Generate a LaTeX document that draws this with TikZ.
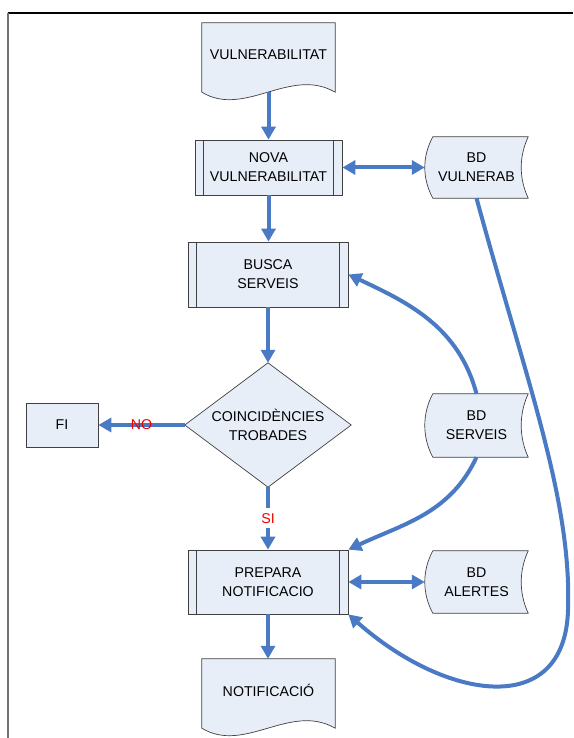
\documentclass[tikz,border=0pt]{standalone}
\usepackage{fontspec}
\setmainfont{Liberation Sans}
\usetikzlibrary{arrows.meta,calc,backgrounds}
\definecolor{boxfill}{RGB}{232,238,248}
\definecolor{boxline}{RGB}{64,64,64}
\definecolor{arrowblue}{RGB}{74,122,196}
\definecolor{labelred}{RGB}{240,0,0}
\tikzset{
  every node/.style={font=\fontsize{14.2}{19}\selectfont, text=black},
  shapeonly/.style={draw=none, rectangle, inner sep=0pt, align=center},
  procbox/.style={shapeonly, draw=boxline, fill=boxfill, line width=0.7pt},
  outline/.style={draw=boxline, fill=boxfill, line width=0.7pt},
  tipA/.tip={Triangle[length=13pt,width=14pt]},
  flow/.style={draw=arrowblue, line width=4pt, -tipA},
  biflow/.style={draw=arrowblue, line width=4pt, tipA-tipA},
  lbl/.style={text=labelred, inner sep=1pt},
}
\newcommand{\procinner}[1]{%
  \draw[boxline, line width=0.7pt] ([xshift=9pt]#1.north west) -- ([xshift=9pt]#1.south west);
  \draw[boxline, line width=0.7pt] ([xshift=-9pt]#1.north east) -- ([xshift=-9pt]#1.south east);}
\newcommand{\docoutline}[1]{%
  \path[outline] (#1.north west) -- (#1.north east) -- (#1.south east)
    .. controls ($(#1.south east)+(-45,26)$) and ($(#1.south west)+(43,-26)$) .. (#1.south west) -- cycle;}
\newcommand{\storeoutline}[1]{%
  \path[outline] ($(#1.north west)+(8,0)$) -- (#1.north east)
    .. controls ($(#1.north east)+(-9.3,-20)$) and ($(#1.south east)+(-9.3,20)$) .. (#1.south east)
    -- ($(#1.south west)+(8,0)$)
    .. controls ($(#1.south west)+(-2.7,20)$) and ($(#1.north west)+(-2.7,-20)$) .. ($(#1.north west)+(8,0)$) -- cycle;}
\begin{document}
\begin{tikzpicture}[x=1pt,y=1pt]
\useasboundingbox (0,0) rectangle (573,738);
% frame
\draw[black, line width=1.2pt] (8,725) -- (573,725);
\draw[black!55, line width=2pt] (8,725) -- (8,0);

% nodes
\node[shapeonly, minimum width=133pt, minimum height=69pt] (vul) at (268.5,680.5) {\raisebox{5.5pt}{VULNERABILITAT}};
\node[procbox, minimum width=147pt, minimum height=55pt] (nova) at (268.5,570.5) {NOVA\\VULNERABILITAT};
\node[shapeonly, minimum width=103pt, minimum height=61pt] (bdv) at (476.5,570.5) {BD\\VULNERAB};
\node[procbox, minimum width=160pt, minimum height=65pt] (busca) at (268,463.5) {BUSCA\\SERVEIS};
\node[shapeonly, minimum width=166pt, minimum height=124pt] (dia) at (268,313) {COINCIDÈNCIES\\TROBADES};
\node[procbox, minimum width=72pt, minimum height=44pt] (fi) at (62,313) {FI};
\node[shapeonly, minimum width=103pt, minimum height=63pt] (bds) at (476.5,312.5) {BD\\SERVEIS};
\node[procbox, minimum width=160pt, minimum height=64pt] (prep) at (268,156) {PREPARA\\NOTIFICACIO};
\node[shapeonly, minimum width=103pt, minimum height=62pt] (bda) at (476.5,156) {BD\\ALERTES};
\node[shapeonly, minimum width=133pt, minimum height=69pt] (notif) at (268.5,44.5) {\raisebox{5.5pt}{NOTIFICACIÓ}};

\begin{scope}[on background layer]
  \docoutline{vul}
  \docoutline{notif}
  \storeoutline{bdv}
  \storeoutline{bds}
  \storeoutline{bda}
  \path[outline] (dia.north) -- (dia.east) -- (dia.south) -- (dia.west) -- cycle;
\end{scope}
\procinner{nova}
\procinner{busca}
\procinner{prep}

% connectors
\draw[flow] (vul.south) -- (nova.north);
\draw[flow] (nova.south) -- (nova.south |- busca.north);
\draw[flow] (busca.south) -- (dia.north);
\draw[flow] (dia.west) -- node[lbl]{NO} (fi.east);
\draw[flow] (dia.south) -- node[lbl, fill=white, inner ysep=5pt]{SI} (prep.north);
\draw[flow] (prep.south) -- (prep.south |- notif.north);
\draw[biflow] (nova.east) -- (bdv.west);
\draw[biflow] (prep.east) -- (bda.west);
\draw[flow] (bds.north) to[out=105,in=-25] (busca.east);
\draw[flow] (bds.south) to[out=-115,in=25] (prep.north east);
\draw[flow] (bdv.south) .. controls (526,358) and (572,238) .. (568,128)
  .. controls (565,18) and (445,38) .. (prep.south east);
\end{tikzpicture}
\end{document}
